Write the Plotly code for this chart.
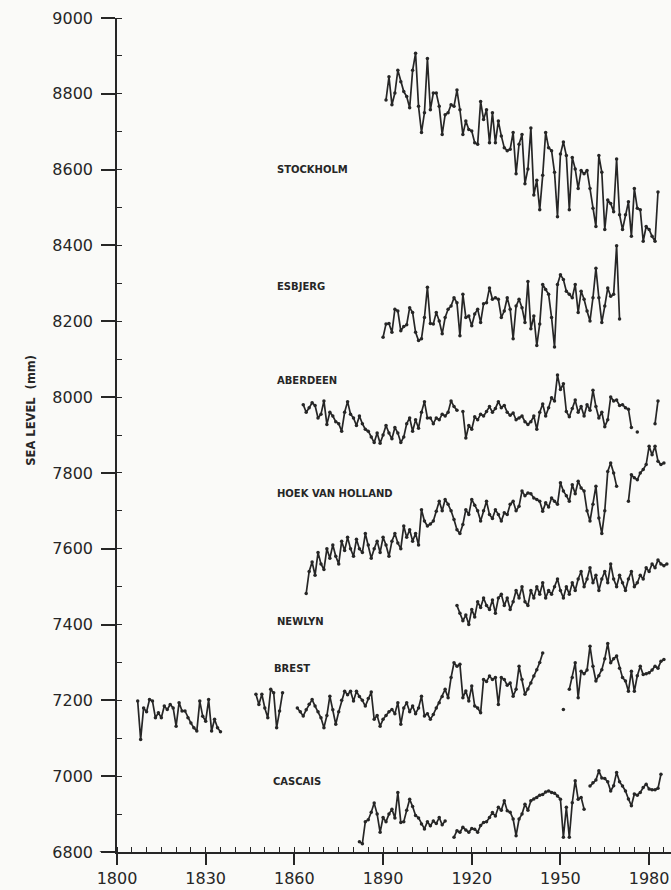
import plotly.graph_objects as go

# ---------------- data (annual mean sea level, mm) ----------------
stockholm_start = 1891
stockholm_mm = [8784, 8845, 8771, 8802, 8862, 8832, 8806, 8793, 8763, 8862,
                8907, 8767, 8698, 8750, 8893, 8758, 8802, 8802, 8767, 8693,
                8745, 8750, 8771, 8767, 8810, 8758, 8693, 8728, 8706, 8702,
                8671, 8667, 8780, 8732, 8758, 8671, 8750, 8671, 8728, 8689,
                8658, 8650, 8654, 8698, 8589, 8667, 8693, 8563, 8602, 8710,
                8533, 8572, 8494, 8585, 8698, 8658, 8650, 8593, 8476, 8641,
                8673, 8637, 8494, 8632, 8602, 8550, 8598, 8589, 8598, 8550,
                8498, 8450, 8637, 8593, 8442, 8520, 8511, 8489, 8628, 8481,
                8442, 8481, 8515, 8424, 8550, 8498, 8494, 8411, 8450, 8442,
                8424, 8411, 8541]

esbjerg_start = 1890
esbjerg_mm = [8158, 8193, 8194, 8171, 8232, 8227, 8175, 8186, 8191, 8236,
              8223, 8171, 8149, 8154, 8210, 8290, 8194, 8193, 8223, 8201,
              8167, 8210, 8232, 8240, 8262, 8249, 8162, 8271, 8210, 8214,
              8188, 8219, 8232, 8197, 8246, 8249, 8288, 8258, 8262, 8258,
              8210, 8227, 8262, 8232, 8154, 8240, 8258, 8236, 8197, 8305,
              8180, 8214, 8136, 8193, 8297, 8284, 8271, 8210, 8132, 8297,
              8323, 8310, 8279, 8271, 8262, 8297, 8223, 8279, 8258, 8227,
              8201, 8262, 8340, 8262, 8197, 8240, 8288, 8266, 8271, 8399,
              8206]

aberdeen_start = 1863
aberdeen_mm = ([7980, 7960, 7972, 7985, 7978, 7945, 7955, 7990, 7928, 7960,
                7950, 7935, 7930, 7910, 7960, 7988, 7955, 7945, 7925, 7950,
                7930, 7915, 7910, 7895, 7880, 7905, 7878, 7900, 7925, 7905,
                7890, 7920, 7905, 7880, 7895, 7930, 7945, 7910, 7940, 7918,
                7960, 7988, 7945, 7945, 7930, 7945, 7940, 7955, 7950, 7960,
                7990, 7975, 7965]
               + [None]
               + [7962, 7892, 7925, 7915, 7948, 7940, 7955, 7950, 7962, 7975,
                  7960, 7970, 7988, 7972, 7978, 7960, 7952, 7958, 7940, 7945,
                  7950, 7935, 7928, 7935, 7950, 7915, 7960, 7982, 7950, 7972,
                  7998, 7990, 8058, 8020, 8035, 7962, 7948, 7970, 7992, 7960,
                  7975, 7950, 7980, 7965, 8018, 7975, 7945, 7960, 7922, 7940,
                  8000, 7990, 7992, 7978, 7980, 7972, 7968, 7920]
               + [None, 7908, None, None, None, None, None, 7930, 7990])

hoek_start = 1864
hoek_mm = ([7482, 7540, 7565, 7530, 7590, 7560, 7545, 7600, 7575, 7610,
            7580, 7560, 7620, 7595, 7630, 7600, 7580, 7625, 7600, 7590,
            7640, 7610, 7575, 7600, 7620, 7590, 7630, 7610, 7580, 7620,
            7640, 7615, 7600, 7660, 7630, 7650, 7620, 7640, 7610, 7703,
            7673, 7660, 7665, 7673, 7699, 7725, 7700, 7730, 7717, 7700,
            7677, 7650, 7640, 7664, 7703, 7690, 7730, 7715, 7700, 7673,
            7700, 7725, 7690, 7680, 7703, 7690, 7673, 7695, 7690, 7717,
            7725, 7700, 7712, 7752, 7740, 7747, 7745, 7734, 7730, 7725,
            7699, 7721, 7710, 7734, 7725, 7717, 7774, 7752, 7740, 7725,
            7769, 7745, 7778, 7760, 7752, 7700, 7673, 7717, 7765, 7681,
            7640, 7700, 7804, 7826, 7800, 7765]
           + [None, None, None]
           + [7725, 7795, 7787, 7782, 7800, 7809, 7822, 7870, 7848, 7870,
              7831, 7822, 7826])

newlyn_start = 1915
newlyn_mm = [7450, 7430, 7410, 7425, 7400, 7440, 7420, 7460, 7445, 7470,
             7450, 7440, 7465, 7430, 7470, 7480, 7450, 7470, 7440, 7460,
             7490, 7470, 7500, 7460, 7450, 7490, 7470, 7500, 7480, 7510,
             7470, 7490, 7480, 7500, 7520, 7490, 7470, 7500, 7480, 7510,
             7490, 7520, 7540, 7500, 7520, 7550, 7510, 7530, 7490, 7520,
             7540, 7510, 7560, 7520, 7500, 7530, 7510, 7490, 7520, 7540,
             7500, 7510, 7530, 7520, 7550, 7540, 7560, 7550, 7570, 7560,
             7555, 7560]

brest_start = 1807
brest_mm = ([7198, 7097, 7180, 7170, 7202, 7198, 7154, 7167, 7154, 7185,
             7176, 7189, 7180, 7132, 7194, 7172, 7172, 7154, 7140, 7128,
             7119, 7198, 7158, 7145, 7202, 7119, 7150, 7128, 7117]
            + [None] * 11
            + [7216, 7189, 7216, 7180, 7154, 7229, 7220, 7128, 7172, 7220]
            + [None] * 4
            + [7180, 7170, 7159, 7175, 7190, 7202, 7185, 7170, 7154, 7128,
               7160, 7211, 7175, 7137, 7170, 7200, 7224, 7215, 7224, 7198,
               7224, 7210, 7200, 7185, 7205, 7222, 7150, 7160, 7132, 7150,
               7160, 7170, 7176, 7165, 7194, 7137, 7180, 7194, 7170, 7185,
               7165, 7180, 7211, 7159, 7165, 7150, 7163, 7180, 7194, 7210,
               7229, 7207, 7260, 7299, 7290, 7295, 7207, 7225, 7198, 7238,
               7185, 7180, 7167, 7255, 7250, 7264, 7255, 7260, 7189, 7260,
               7255, 7240, 7246, 7211, 7229, 7290, 7255, 7216, 7230, 7246,
               7264, 7281, 7300, 7325]
            + [None] * 6
            + [7176, None]
            + [7229, 7260, 7299, 7207, 7277, 7270, 7280, 7343, 7290, 7251,
               7265, 7281, 7310, 7350, 7299, 7310, 7317, 7285, 7260, 7251,
               7224, 7277, 7224, 7265, 7290, 7268, 7270, 7273, 7280, 7290,
               7285, 7303, 7308])

cascais_start = 1882
cascais_mm = ([6827, 6822, 6880, 6885, 6905, 6929, 6900, 6852, 6891, 6880,
               6900, 6913, 6890, 6957, 6878, 6880, 6910, 6939, 6920, 6896,
               6890, 6874, 6861, 6880, 6869, 6882, 6875, 6891, 6872, 6882]
              + [None, None]
              + [6839, 6856, 6852, 6865, 6858, 6852, 6862, 6860, 6852, 6870,
                 6878, 6880, 6891, 6904, 6895, 6918, 6910, 6935, 6909, 6905,
                 6887, 6843, 6887, 6900, 6926, 6910, 6935, 6940, 6944, 6950,
                 6952, 6958, 6961, 6957, 6955, 6948, 6939, 6839, 6918, 6839,
                 6930, 6988, 6939, 6944, 6913]
              + [None]
              + [6974, 6983, 6990, 7014, 6995, 6994, 6985, 6961, 6975, 7010,
                 6985, 6974, 6961, 6940, 6922, 6953, 6950, 6957, 6970, 6979,
                 6966, 6964, 6964, 6968, 7005])

stations = ["STOCKHOLM", "ESBJERG", "ABERDEEN", "HOEK VAN HOLLAND",
            "NEWLYN", "BREST", "CASCAIS"]
series = [(stockholm_start, stockholm_mm), (esbjerg_start, esbjerg_mm),
          (aberdeen_start, aberdeen_mm), (hoek_start, hoek_mm),
          (newlyn_start, newlyn_mm), (brest_start, brest_mm),
          (cascais_start, cascais_mm)]
label_x = [1853.5, 1853.5, 1853.5, 1853.5, 1853.5, 1852.5, 1852.0]
label_y = [8600, 8292, 8045, 7745, 7408, 7285, 6985]

x_ticks = [1800, 1830, 1860, 1890, 1920, 1950, 1980]
y_ticks = [6800, 7000, 7200, 7400, 7600, 7800, 8000, 8200, 8400, 8600, 8800, 9000]

# ---------------- figure ----------------
INK = "#262626"
BG = "#fafaf8"
TICK_FONT = dict(family="DejaVu Sans", size=16, color=INK)
LABEL_FONT = dict(family="DejaVu Sans", size=10, color=INK)

fig = go.Figure()
for name, (start, vals) in zip(stations, series):
    years = list(range(start, start + len(vals)))
    fig.add_trace(go.Scatter(
        x=years, y=vals, mode="lines+markers", name=name,
        connectgaps=False,
        line=dict(color=INK, width=1.7),
        marker=dict(color=INK, size=3.5),
        showlegend=False,
    ))

for name, lx, ly in zip(stations, label_x, label_y):
    fig.add_annotation(x=lx, y=ly, xref="x", yref="y", text="<b>%s</b>" % name,
                       showarrow=False, xanchor="left", yanchor="middle",
                       font=LABEL_FONT)

fig.add_annotation(x=-0.172, y=0.53, xref="paper", yref="paper",
                   text="<b>SEA LEVEL  (mm)</b>", textangle=-90, showarrow=False,
                   font=dict(family="DejaVu Sans", size=11.5, color=INK))

# x-axis line continues a little to the left of the y axis
fig.add_shape(type="line", xref="paper", yref="y", x0=-0.031, x1=0, y0=6800, y1=6800,
              line=dict(color=INK, width=1.5))

fig.update_layout(
    width=671, height=890,
    margin=dict(l=117, r=0, t=18, b=38, autoexpand=False),
    paper_bgcolor=BG, plot_bgcolor=BG,
    font=dict(family="DejaVu Sans", size=16, color=INK),
)
fig.update_xaxes(
    range=[1800, 1987.4], tickvals=x_ticks, ticks="outside", ticklen=11,
    tickwidth=1.5, tickcolor=INK, showline=True, linecolor=INK, linewidth=1.5,
    showgrid=False, zeroline=False, tickfont=TICK_FONT, automargin=False,
    minor=dict(dtick=5, tick0=1800, ticks="inside", ticklen=5, tickwidth=1.2,
               tickcolor=INK, showgrid=False),
)
fig.update_yaxes(
    range=[6800, 9000], tickvals=y_ticks, ticks="outside", ticklen=14,
    tickwidth=1.5, tickcolor=INK, showline=True, linecolor=INK, linewidth=1.5,
    showgrid=False, zeroline=False, ticklabelstandoff=5, tickfont=TICK_FONT,
    automargin=False,
    minor=dict(dtick=100, tick0=6800, ticks="inside", ticklen=5, tickwidth=1.2,
               tickcolor=INK, showgrid=False),
)

fig.write_html("out.html", config={"displayModeBar": False},
               post_script="document.body.style.margin='0';document.body.style.background='%s';" % BG)
